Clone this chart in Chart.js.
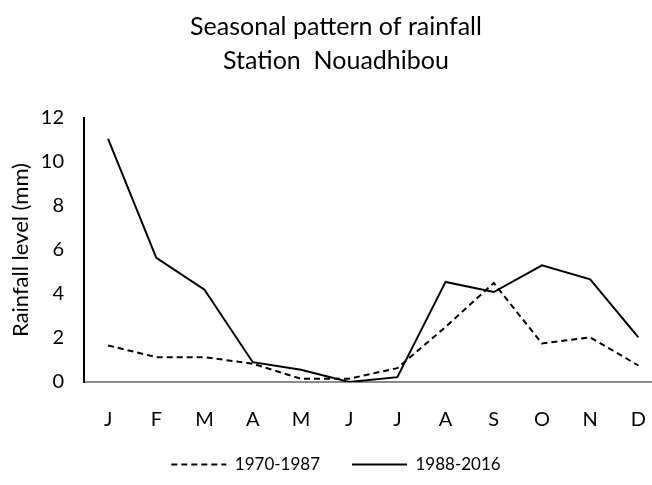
<!DOCTYPE html>
<html>
<head>
<meta charset="utf-8">
<script src="https://cdn.jsdelivr.net/npm/chart.js@4"></script>
<style>
  body { margin: 0; overflow: hidden; background: #fff; }
  #wrap { width: 652px; height: 485px; overflow: hidden; }
</style>
</head>
<body>
<div id="wrap"><canvas id="myChart" width="672" height="485"></canvas></div>
<script>
const months = ['J', 'F', 'M', 'A', 'M', 'J', 'J', 'A', 'S', 'O', 'N', 'D'];
const rain1970 = [1.66, 1.13, 1.13, 0.83, 0.15, 0.15, 0.63, 2.5, 4.5, 1.75, 2.03, 0.75];
const rain1988 = [11.05, 5.64, 4.2, 0.9, 0.56, 0, 0.22, 4.55, 4.09, 5.3, 4.67, 2.03];
const yTicks = [0, 2, 4, 6, 8, 10, 12];

const font = "Lato";
const ctx = document.getElementById('myChart');

new Chart(ctx, {
  type: 'line',
  data: {
    labels: months,
    datasets: [{
      label: '1970-1987',
      data: rain1970,
      borderColor: '#000',
      backgroundColor: 'transparent',
      borderWidth: 2,
      borderDash: [6, 4],
      pointRadius: 0,
      tension: 0
    }, {
      label: '1988-2016',
      data: rain1988,
      borderColor: '#000',
      backgroundColor: 'transparent',
      borderWidth: 2,
      pointRadius: 0,
      tension: 0
    }]
  },
  options: {
    responsive: false,
    animation: false,
    layout: { padding: { left: 0, right: 0, top: 0, bottom: 2 } },
    scales: {
      x: {
        offset: true,
        afterFit: axis => {
          axis.height = 42;
          // let the month labels spill below the squeezed axis box
          axis._computeLabelArea = () => null;
        },
        grid: { display: false, drawTicks: false },
        border: { display: true, color: '#8c8c8c', width: 2 },
        ticks: { color: '#000', padding: 26, font: { family: font, size: 20 } }
      },
      y: {
        min: 0,
        max: 12,
        afterBuildTicks: axis => { axis.ticks = yTicks.map(v => ({ value: v })); },
        afterFit: axis => { axis.width = 84; },
        grid: { display: false, drawTicks: false },
        border: { display: true, color: '#000', width: 2 },
        ticks: { color: '#000', padding: 20, font: { family: font, size: 20 } },
        title: {
          display: true,
          text: 'Rainfall level (mm)',
          color: '#000',
          font: { family: font, size: 22 },
          padding: { top: 8, bottom: 0 }
        }
      }
    },
    plugins: {
      title: {
        display: true,
        text: ['Seasonal pattern of rainfall', 'Station  Nouadhibou'],
        color: '#000',
        font: { family: font, size: 25, weight: 'normal', lineHeight: 1.36 },
        padding: { top: 10, bottom: 40 }
      },
      legend: {
        position: 'bottom',
        labels: {
          color: '#000',
          usePointStyle: true,
          pointStyle: 'line',
          pointStyleWidth: 55,
          padding: 32,
          font: { family: font, size: 17 },
          generateLabels: chart => {
            const items = Chart.defaults.plugins.legend.labels.generateLabels(chart);
            items.forEach(item => {
              item.lineDash = chart.data.datasets[item.datasetIndex].borderDash || [];
              item.lineWidth = 2;
            });
            return items;
          }
        }
      },
      tooltip: { enabled: false }
    }
  }
});
</script>
</body>
</html>
